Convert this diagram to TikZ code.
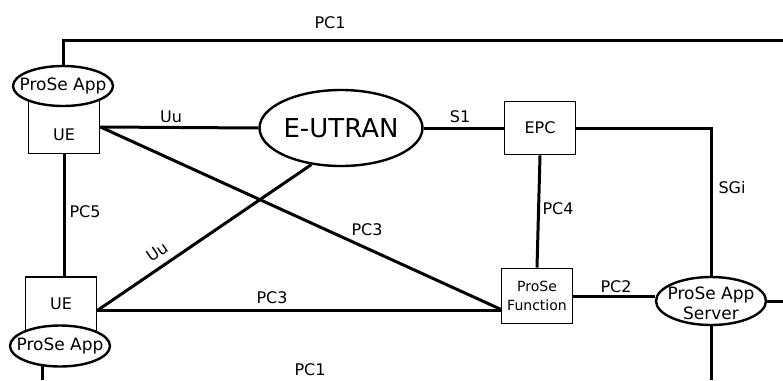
\documentclass[tikz,border=0pt]{standalone}
\usepackage{fontspec}
\setmainfont{DejaVu Sans}
\usetikzlibrary{shapes.geometric}
\begin{document}
\begin{tikzpicture}[x=1pt,y=-1pt,
	box/.style={draw,line width=1.8pt,minimum width=71pt,inner sep=0pt},
	app/.style={draw,ellipse,line width=2.4pt,fill=white,inner sep=0pt},
	link/.style={line width=3pt},
	lbl/.style={font=\fontsize{16}{18}\selectfont,inner sep=1pt}]
	\useasboundingbox (0,0) rectangle (783,380);
	% UEs with their ProSe Apps
	\node[box,minimum height=53pt] (ue1) at (64,127) {};
	\node[lbl] (ue1t) at (64,135) {UE};
	\node[app,minimum width=100pt,minimum height=40pt] (app1) at (63,86) {};
	\node[font=\fontsize{17}{19}\selectfont] (app1t) at (app1) {ProSe App};
	\node[box,minimum height=54pt] (ue2) at (61,304) {};
	\node[lbl] (ue2t) at (ue2) {UE};
	\node[app,minimum width=100pt,minimum height=41pt] (app2) at (60,346) {};
	\node[font=\fontsize{17}{19}\selectfont] (app2t) at (app2) {ProSe App};
	% network side
	\node[app,minimum width=163pt,minimum height=76pt] (eutran) at (341,128) {};
	\node[font=\fontsize{26}{28}\selectfont] (eutrant) at (eutran) {E-UTRAN};
	\node[box,minimum height=53pt,lbl,inner sep=0pt] (epc) at (540,128) {EPC};
	\node[box,minimum height=55pt,align=center,font=\fontsize{14}{19}\selectfont] (pf) at (537,296) {ProSe\\Function};
	\node[app,minimum width=110pt,minimum height=48pt] (as) at (711,301) {};
	\node[align=center,font=\fontsize{17}{20}\selectfont] (ast) at (711,303) {ProSe App\\Server};
	% free ends at the edges
	\coordinate (top) at (0,40);
	\coordinate (right) at (783,0);
	\coordinate (bottom) at (0,380);
	% connectors
	\draw[link] (app1.north) -- (app1.north |- top) -- (right |- top);
	\draw[link] (ue1.east) -- (eutran.west);
	\draw[link] (eutran.east) -- (epc.west);
	\draw[link] (epc.east) -- (epc.east -| as.north) -- (as.north);
	\draw[link] (epc.south) -- (pf.north);
	\draw[link] (pf.east) -- (pf.east -| as.west);
	\draw[link] (as.east) -- (as.east -| right);
	\draw[link] (as.south) -- (as.south |- bottom);
	\draw[link] (ue1.south) -- (ue2.north -| ue1.south);
	\draw[link] (ue1.east) -- (pf.200);
	\draw[link] (ue2.-10) -- (eutran.231);
	\draw[link] (ue2.-10) -- (ue2.-10 -| pf.west);
	\draw[link] (app2.230) -- (app2.230 |- bottom);
	% interface names
	\node[lbl] (pc1a) at (330,23) {PC1};
	\node[lbl] (uu1) at (171,117) {Uu};
	\node[lbl] (s1) at (460,117) {S1};
	\node[lbl] (sgi) at (732,188) {SGi};
	\node[lbl] (pc5) at (85,212) {PC5};
	\node[lbl] (pc4) at (558,209) {PC4};
	\node[lbl] (pc3a) at (367,230) {PC3};
	\node[lbl,rotate=34] (uu2) at (157,252) {Uu};
	\node[lbl] (pc3b) at (272,298) {PC3};
	\node[lbl] (pc2) at (616,287) {PC2};
	\node[lbl] (pc1b) at (310,370) {PC1};
\end{tikzpicture}
\end{document}
